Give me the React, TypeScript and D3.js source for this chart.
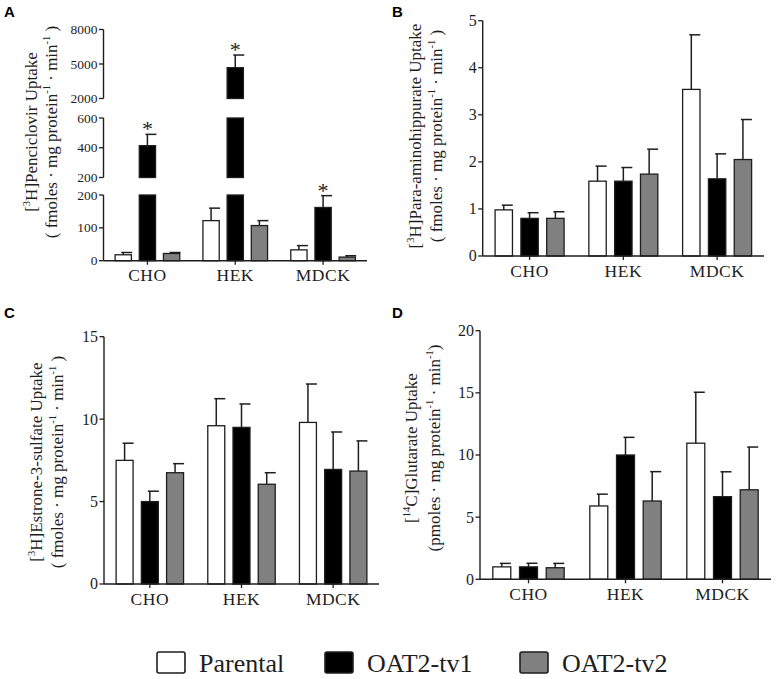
import React from "react";
import * as d3 from "d3";

// ---------- data ----------
const categories = ["CHO", "HEK", "MDCK"];
const seriesNames = ["Parental", "OAT2-tv1", "OAT2-tv2"];
const seriesColors = ["#ffffff", "#000000", "#808080"];

// Panel A: [3H]Penciclovir
const penciclovirParental = [18, 122, 33];
const penciclovirParentalErr = [7, 38, 13];
const penciclovirTv1 = [414, 4680, 162];
const penciclovirTv1Err = [76, 1100, 36];
const penciclovirTv2 = [22, 107, 11];
const penciclovirTv2Err = [3, 15, 4];
const penciclovirTicksLow = [0, 100, 200];
const penciclovirTicksMid = [200, 400, 600];
const penciclovirTicksHigh = [2000, 5000, 8000];
const penciclovirStars = [[1, 0], [1, 1], [1, 2]];

// Panel B: [3H]Para-aminohippurate
const pahParental = [0.98, 1.59, 3.54];
const pahParentalErr = [0.1, 0.32, 1.16];
const pahTv1 = [0.8, 1.59, 1.64];
const pahTv1Err = [0.12, 0.29, 0.53];
const pahTv2 = [0.8, 1.74, 2.05];
const pahTv2Err = [0.14, 0.53, 0.85];
const pahTicks = [0, 1, 2, 3, 4, 5];

// Panel C: [3H]Estrone-3-sulfate
const esParental = [7.5, 9.6, 9.8];
const esParentalErr = [1.04, 1.64, 2.33];
const esTv1 = [5.0, 9.5, 6.95];
const esTv1Err = [0.63, 1.42, 2.27];
const esTv2 = [6.75, 6.05, 6.85];
const esTv2Err = [0.55, 0.7, 1.83];
const esTicks = [0, 5, 10, 15];

// Panel D: [14C]Glutarate
const gluParental = [1.0, 5.9, 10.95];
const gluParentalErr = [0.28, 0.95, 4.1];
const gluTv1 = [1.0, 10.0, 6.65];
const gluTv1Err = [0.29, 1.42, 2.0];
const gluTv2 = [0.93, 6.3, 7.2];
const gluTv2Err = [0.35, 2.36, 3.44];
const gluTicks = [0, 5, 10, 15, 20];

const SERIF = "'Liberation Serif', 'Times New Roman', Times, serif";
const SANS = "'Liberation Sans', Arial, Helvetica, sans-serif";
const INK = "#1e1e1e";

type Seg = { domain: [number, number]; range: [number, number]; ticks: number[] };
type Part = [string, boolean];

type PanelSpec = {
  label: string;
  labelX: number;
  labelY: number;
  axisX: number;
  axisEnd: number;
  segments: Seg[];
  values: number[][];
  errors: number[][];
  stars?: number[][];
  title1: Part[];
  title2: Part[];
  titleCenter: number;
  title1X: number;
  title2X: number;
  tickFont: number;
};

function Title({ parts, x, y, size }: { parts: Part[]; x: number; y: number; size: number }) {
  const nodes: React.ReactNode[] = [];
  let sup = false;
  parts.forEach(([t, s], i) => {
    let dy = 0;
    if (s && !sup) dy = -size * 0.42;
    if (!s && sup) dy = size * 0.42;
    sup = s;
    nodes.push(
      <tspan key={i} dy={dy} fontSize={s ? size * 0.62 : size}>
        {t}
      </tspan>
    );
  });
  return (
    <text
      transform={`translate(${x},${y}) rotate(-90)`}
      textAnchor="middle"
      fontFamily={SERIF}
      fontSize={size}
      fill={INK}
    >
      {nodes}
    </text>
  );
}

function Panel({ spec }: { spec: PanelSpec }) {
  const x0 = d3.scaleBand().domain(categories).range([spec.axisX, spec.axisEnd]).padding(0);
  const x1 = d3
    .scaleBand()
    .domain(seriesNames)
    .range([0, x0.bandwidth()])
    .paddingInner(0.327)
    .paddingOuter(0.48);
  const scales = spec.segments.map((s) => d3.scaleLinear().domain(s.domain).range(s.range));
  const baseY = scales[0](spec.segments[0].domain[0]);
  const segOf = (v: number) => {
    let k = 0;
    spec.segments.forEach((s, i) => {
      if (v >= s.domain[0]) k = i;
    });
    return k;
  };

  const bars: React.ReactNode[] = [];
  const errs: React.ReactNode[] = [];
  const stars: React.ReactNode[] = [];
  seriesNames.forEach((sn, si) => {
    categories.forEach((c, ci) => {
      const v = spec.values[si][ci];
      const e = spec.errors[si][ci];
      const bx = (x0(c) as number) + (x1(sn) as number);
      const bw = x1.bandwidth();
      const cx = bx + bw / 2;
      spec.segments.forEach((s, k) => {
        if (k > 0 && v <= s.domain[0]) return;
        const top = scales[k](Math.min(v, s.domain[1]));
        const bot = scales[k](s.domain[0]);
        bars.push(
          <rect
            key={`b${si}-${ci}-${k}`}
            x={bx}
            y={top}
            width={bw}
            height={bot - top}
            fill={seriesColors[si]}
            stroke={INK}
            strokeWidth={1.3}
          />
        );
      });
      const k = segOf(v + e);
      const yTop = scales[k](v + e);
      const yV = scales[k](Math.max(v, spec.segments[k].domain[0]));
      errs.push(
        <g key={`e${si}-${ci}`} stroke={INK} strokeWidth={1.5}>
          <line x1={cx} x2={cx} y1={yV} y2={yTop} />
          <line x1={cx - 2} x2={cx + 9} y1={yTop} y2={yTop} />
        </g>
      );
      if (spec.stars && spec.stars.some(([s2, c2]) => s2 === si && c2 === ci)) {
        stars.push(
          <text
            key={`s${si}-${ci}`}
            x={cx}
            y={yTop + 2}
            textAnchor="middle"
            fontFamily={SERIF}
            fontSize={22}
            fill={INK}
          >
            *
          </text>
        );
      }
    });
  });

  return (
    <g>
      <text x={spec.labelX} y={spec.labelY} fontFamily={SANS} fontWeight="bold" fontSize={15} fill="#000">
        {spec.label}
      </text>
      {spec.segments.map((s, k) => (
        <g key={`ax${k}`}>
          <line
            x1={spec.axisX}
            x2={spec.axisX}
            y1={scales[k](s.domain[0])}
            y2={scales[k](s.domain[1])}
            stroke={INK}
            strokeWidth={1.4}
          />
          {s.ticks.map((t) => (
            <g key={t} transform={`translate(0,${scales[k](t)})`}>
              <line x1={spec.axisX - 4.5} x2={spec.axisX} stroke={INK} strokeWidth={1.3} />
              <text
                x={spec.axisX - 6}
                dy="0.34em"
                textAnchor="end"
                fontFamily={SERIF}
                fontSize={spec.tickFont}
                fill={INK}
              >
                {d3.format("d")(t)}
              </text>
            </g>
          ))}
        </g>
      ))}
      {bars}
      {errs}
      {stars}
      <line x1={spec.axisX} x2={spec.axisEnd} y1={baseY} y2={baseY} stroke={INK} strokeWidth={1.4} />
      {categories.map((c) => {
        const cx = (x0(c) as number) + x0.bandwidth() / 2;
        return (
          <g key={c}>
            <line x1={cx} x2={cx} y1={baseY} y2={baseY + 4} stroke={INK} strokeWidth={1.3} />
            <text
              x={cx}
              y={baseY + 20.5}
              textAnchor="middle"
              fontFamily={SERIF}
              fontSize={17.5}
              letterSpacing={0.5}
              fill={INK}
            >
              {c}
            </text>
          </g>
        );
      })}
      <Title parts={spec.title1} x={spec.title1X} y={spec.titleCenter} size={17} />
      <Title parts={spec.title2} x={spec.title2X} y={spec.titleCenter} size={17} />
    </g>
  );
}

const unitsF: Part[] = [
  ["( fmoles · mg protein", false],
  ["-1", true],
  [" · min", false],
  ["-1", true],
  [" )", false],
];
const unitsP: Part[] = [
  ["(pmoles · mg protein", false],
  ["-1", true],
  [" · min", false],
  ["-1", true],
  [")", false],
];

export default function App() {
  const panels: PanelSpec[] = [
    {
      label: "A",
      labelX: 4,
      labelY: 17,
      axisX: 103.5,
      axisEnd: 367,
      segments: [
        { domain: [0, 200], range: [260.7, 195], ticks: penciclovirTicksLow },
        { domain: [200, 600], range: [177.5, 118], ticks: penciclovirTicksMid },
        { domain: [2000, 8000], range: [98.5, 29.5], ticks: penciclovirTicksHigh },
      ],
      values: [penciclovirParental, penciclovirTv1, penciclovirTv2],
      errors: [penciclovirParentalErr, penciclovirTv1Err, penciclovirTv2Err],
      stars: penciclovirStars,
      title1: [["[", false], ["3", true], ["H]Penciclovir Uptake", false]],
      title2: unitsF,
      titleCenter: 132,
      title1X: 37,
      title2X: 57,
      tickFont: 13.5,
    },
    {
      label: "B",
      labelX: 392,
      labelY: 17,
      axisX: 482.7,
      axisEnd: 764,
      segments: [{ domain: [0, 5], range: [256, 20.7], ticks: pahTicks }],
      values: [pahParental, pahTv1, pahTv2],
      errors: [pahParentalErr, pahTv1Err, pahTv2Err],
      title1: [["[", false], ["3", true], ["H]Para-aminohippurate Uptake", false]],
      title2: unitsF,
      titleCenter: 136,
      title1X: 421,
      title2X: 442,
      tickFont: 16,
    },
    {
      label: "C",
      labelX: 4,
      labelY: 318,
      axisX: 104,
      axisEnd: 379,
      segments: [{ domain: [0, 15], range: [584, 336.7], ticks: esTicks }],
      values: [esParental, esTv1, esTv2],
      errors: [esParentalErr, esTv1Err, esTv2Err],
      title1: [["[", false], ["3", true], ["H]Estrone-3-sulfate Uptake", false]],
      title2: unitsF,
      titleCenter: 462,
      title1X: 42,
      title2X: 63,
      tickFont: 16,
    },
    {
      label: "D",
      labelX: 392,
      labelY: 318,
      axisX: 480,
      axisEnd: 771,
      segments: [{ domain: [0, 20], range: [579.3, 330.7], ticks: gluTicks }],
      values: [gluParental, gluTv1, gluTv2],
      errors: [gluParentalErr, gluTv1Err, gluTv2Err],
      title1: [["[", false], ["14", true], ["C]Glutarate Uptake", false]],
      title2: unitsP,
      titleCenter: 448,
      title1X: 417,
      title2X: 440,
      tickFont: 16,
    },
  ];

  const legendBoxX = [157, 325, 520];
  const legendTextX = [199, 367, 562];

  return (
    <svg
      width={777}
      height={679}
      style={{ position: "absolute", left: 0, top: 0, background: "#fff" }}
    >
      <rect width={777} height={679} fill="#fff" />
      {panels.map((p) => (
        <Panel key={p.label} spec={p} />
      ))}
      {seriesNames.map((s, i) => (
        <g key={s}>
          <rect
            x={legendBoxX[i]}
            y={652}
            width={28}
            height={21}
            rx={2}
            fill={seriesColors[i]}
            stroke={INK}
            strokeWidth={1.6}
          />
          <text x={legendTextX[i]} y={672} fontFamily={SERIF} fontSize={26} fill={INK}>
            {s}
          </text>
        </g>
      ))}
    </svg>
  );
}
